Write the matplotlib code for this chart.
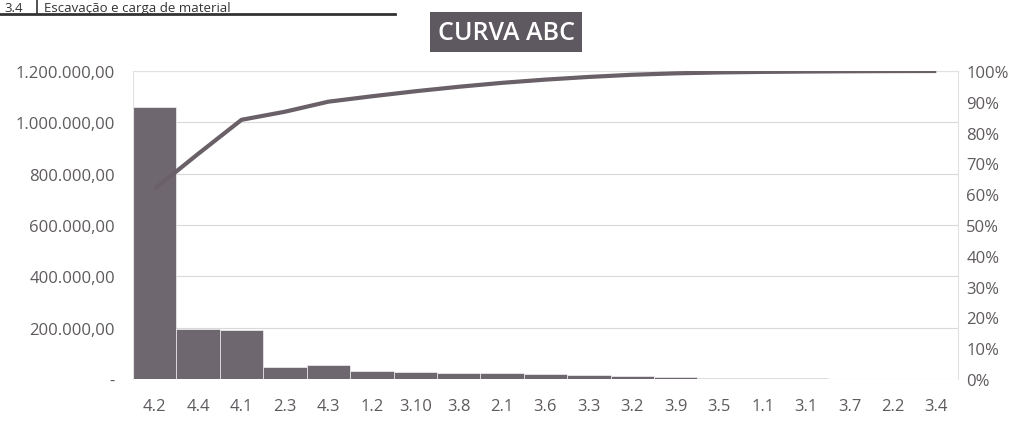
import matplotlib
matplotlib.use("Agg")
import matplotlib.pyplot as plt
from matplotlib.ticker import FuncFormatter
import numpy as np

# values (R$ per item, sorted descending)
items = ["4.2", "4.4", "4.1", "2.3", "4.3", "1.2", "3.10", "3.8", "2.1", "3.6",
         "3.3", "3.2", "3.9", "3.5", "1.1", "3.1", "3.7", "2.2", "3.4"]
valores = [1060000, 195000, 190000, 45000, 56000, 30000, 28000, 25000, 22000, 18000,
           15000, 12000, 8000, 5000, 3000, 2000, 1500, 1000, 500]

left_ticks = [0, 200000, 400000, 600000, 800000, 1000000, 1200000]
right_ticks = [0, 0.1, 0.2, 0.3, 0.4, 0.5, 0.6, 0.7, 0.8, 0.9, 1.0]

BAR = "#6f6770"
LINE = "#6a6068"
TXT = "#5e5a5e"
GRID = "#d9d9d9"

plt.rcParams["font.family"] = ["Open Sans", "DejaVu Sans"]

cum = np.cumsum(valores) / np.sum(valores)
x = np.arange(len(items))


def brl(v, _pos=None):
    if v == 0:
        return "-"
    s = f"{v:,.2f}"
    return s.replace(",", "X").replace(".", ",").replace("X", ".")


fig = plt.figure(figsize=(10.28, 4.39), dpi=100)

# piece of the table row above the chart
fig.text(0.004, 1 - 12 / 439, "3.4", fontsize=9.5, color="#333333", va="baseline")
fig.text(44 / 1028, 1 - 12 / 439, "Escavação e carga de material", fontsize=9.5,
         color="#333333", va="baseline")
fig.add_artist(plt.Line2D([0, 395 / 1028], [1 - 15 / 439] * 2, color="#333333", lw=2))
fig.add_artist(plt.Line2D([37 / 1028] * 2, [1 - 15 / 439, 1], color="#333333", lw=1.2))

ax = fig.add_axes([133 / 1028, 1 - 380 / 439, 825 / 1028, 308 / 439])
ax.bar(x, valores, width=1.0, color=BAR, edgecolor="white", linewidth=0.4, zorder=2)
ax.set_xlim(-0.5, len(items) - 0.5)
ax.set_ylim(0, 1200000)
ax.set_yticks(left_ticks)
ax.yaxis.set_major_formatter(FuncFormatter(brl))
ax.set_xticks(x)
ax.set_xticklabels(items)
ax.tick_params(length=0, labelsize=12, labelcolor=TXT)
ax.tick_params(axis="x", pad=14)
ax.tick_params(axis="y", pad=13)
ax.grid(axis="y", color=GRID, lw=0.8, zorder=0)
ax.set_axisbelow(True)
for side, sp in ax.spines.items():
    sp.set_color("#e2e2e2")
    sp.set_linewidth(0.8)
ax.spines["bottom"].set_visible(False)

ax2 = ax.twinx()
ax2.plot(x, cum, color=LINE, lw=3, solid_capstyle="butt", zorder=3)
ax2.set_ylim(0, 1.0)
ax2.set_yticks(right_ticks)
ax2.yaxis.set_major_formatter(FuncFormatter(lambda v, _p: f"{v * 100:.0f}%"))
ax2.tick_params(length=0, labelsize=12, labelcolor=TXT, pad=6)
for sp in ax2.spines.values():
    sp.set_visible(False)

fig.text(506 / 1028, 1 - 33 / 439, "CURVA ABC", fontsize=18, color="white",
         fontweight="semibold", ha="center", va="center",
         bbox=dict(boxstyle="square,pad=0.3", facecolor="#5e5860", edgecolor="none"))

fig.savefig("out.png", dpi=100)
